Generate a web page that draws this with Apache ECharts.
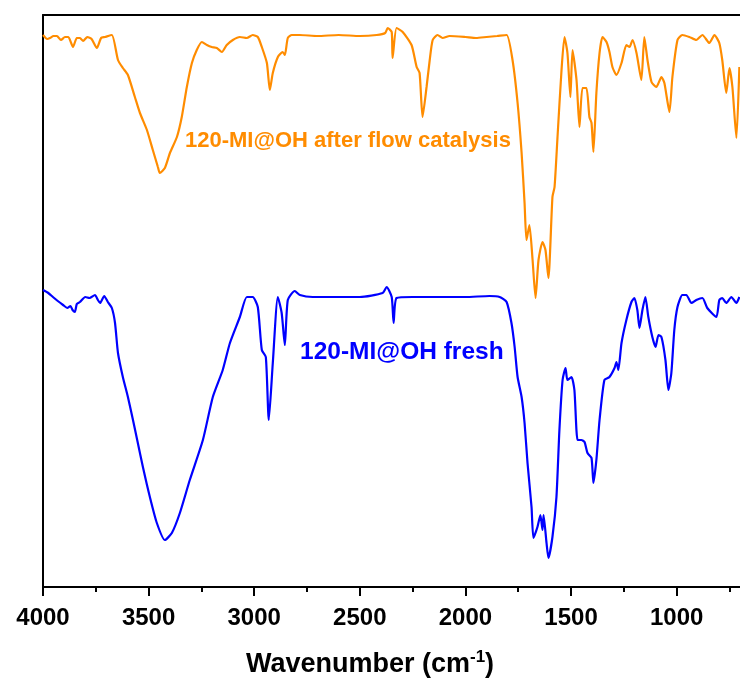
<!DOCTYPE html>
<html>
<head>
<meta charset="utf-8">
<script src="https://cdn.jsdelivr.net/npm/echarts@6/dist/echarts.min.js"></script>
<style>
html,body{margin:0;padding:0;background:#fff;}
#chart{width:740px;height:682px;}
</style>
</head>
<body>
<div id="chart"></div>
<script>
// Wavenumber (cm-1) and relative transmittance (arbitrary units, offset traces)
const afterFlow = [
  [4000,552],[3980,548],[3967,549],[3950,551],[3934,551],[3915,547],[3896,550],[3880,550],[3858,540],[3840,549],
  [3825,549],[3810,546],[3790,550],[3770,548],[3745,539],[3725,549],[3707,550],[3674,552],
  [3645,527],[3622,519],[3598,512],[3565,490],[3541,474],[3508,457],[3480,437],[3456,420],[3447,414],
  [3423,419],[3399,434],[3366,450],[3343,470],[3319,500],[3295,524],[3272,537],[3248,545],[3224,542],
  [3201,540],[3177,539],[3153,535],[3130,542],[3101,547],[3068,550],[3035,549],[3007,552],[2983,550],
  [2964,540],[2940,524],[2926,497],[2912,514],[2888,530],[2865,535],[2855,532],[2841,549],[2822,552],
  [2784,552],[2700,551],[2600,552],[2500,551],[2420,552],[2380,554],[2368,559],[2349,555],[2345,529],
  [2326,559],[2297,555],[2255,542],[2231,520],[2217,514],[2203,470],[2184,500],[2169,527],[2155,547],
  [2132,552],[2108,549],[2075,551],[2000,550],[1950,549],[1900,550],[1850,551],[1805,552],
  [1777,527],[1753,484],[1734,434],[1720,384],[1711,347],[1697,362],[1682,327],[1668,289],[1654,327],
  [1635,345],[1621,337],[1607,309],[1588,390],[1578,400],[1564,450],[1545,517],[1531,550],[1517,534],
  [1503,490],[1493,537],[1474,507],[1460,460],[1446,499],[1427,499],[1413,470],[1403,464],[1394,435],
  [1380,494],[1365,534],[1351,550],[1332,545],[1318,535],[1304,520],[1285,512],[1261,524],[1238,542],
  [1223,540],[1209,547],[1190,534],[1167,507],[1153,550],[1138,527],[1119,505],[1096,500],[1072,510],
  [1058,504],[1034,475],[1020,510],[996,547],[973,552],[940,550],[907,547],[878,552],[845,544],
  [821,552],[798,544],[784,527],[765,494],[750,519],[736,500],[717,449],[703,520]
];
const fresh = [
  [4000,297],[3975,294],[3953,290],[3930,286],[3905,282],[3885,279],[3870,281],[3860,277],[3849,275],[3840,283],
  [3825,285],[3800,290],[3780,289],[3754,292],[3740,287],[3730,284],[3710,291],[3693,285],[3674,279],
  [3659,264],[3645,234],[3622,210],[3598,190],[3574,167],[3551,144],[3527,120],[3494,90],[3461,64],
  [3423,47],[3390,54],[3352,74],[3305,107],[3243,147],[3196,190],[3149,217],[3115,244],[3068,270],
  [3035,290],[3007,290],[2983,280],[2964,237],[2945,230],[2931,167],[2912,224],[2888,290],[2870,274],
  [2855,242],[2841,287],[2808,296],[2784,292],[2723,290],[2600,290],[2500,290],[2392,294],[2373,300],
  [2349,290],[2340,264],[2326,289],[2250,290],[2100,290],[2000,290],[1886,291],[1838,290],[1805,285],
  [1782,264],[1767,240],[1753,210],[1734,190],[1720,164],[1706,124],[1687,80],[1678,49],[1659,60],
  [1645,72],[1635,57],[1630,72],[1616,44],[1607,29],[1588,50],[1569,90],[1555,157],[1540,207],
  [1526,219],[1517,207],[1498,210],[1484,197],[1469,147],[1451,147],[1436,145],[1422,134],[1403,129],
  [1394,104],[1380,127],[1365,167],[1342,207],[1318,210],[1294,219],[1285,225],[1276,217],[1261,244],
  [1238,267],[1214,285],[1200,289],[1186,277],[1176,259],[1162,277],[1148,290],[1134,270],[1115,250],
  [1100,240],[1086,252],[1072,250],[1053,227],[1039,197],[1025,214],[1011,257],[996,280],[973,292],
  [954,292],[930,284],[907,287],[878,289],[855,279],[812,270],[798,287],[784,289],[765,284],[741,290],
  [717,284],[703,290]
];
const majorTicks = [1000,1500,2000,2500,3000,3500,4000];
const minorTicks = [750,1250,1750,2250,2750,3250,3750];
const seriesNames = ['120-MI@OH after flow catalysis','120-MI@OH fresh'];
const xMin = 700, xMax = 4000, yMin = 0, yMax = 572;

const chart = echarts.init(document.getElementById('chart'), null, {renderer:'canvas'});
const FONT = '"Liberation Sans", Arial, sans-serif';
chart.setOption({
  animation:false,
  backgroundColor:'#fff',
  grid:{left:43, right:-1, top:15, bottom:95, containLabel:false},
  xAxis:[
    {type:'value', min:xMin, max:xMax, inverse:true, position:'bottom',
     axisLine:{show:true, onZero:false, lineStyle:{color:'#000', width:2}},
     axisTick:{show:true, customValues:majorTicks, length:9, inside:false, lineStyle:{color:'#000', width:2}},
     axisLabel:{show:true, customValues:majorTicks, margin:19, color:'#000', fontSize:24, fontWeight:'bold', fontFamily:FONT,
       formatter:function(v){return String(v);}},
     splitLine:{show:false}},
    {type:'value', min:xMin, max:xMax, inverse:true, position:'bottom',
     axisLine:{show:false, onZero:false},
     axisTick:{show:true, customValues:minorTicks, length:5, lineStyle:{color:'#000', width:2}},
     axisLabel:{show:false}, splitLine:{show:false}},
    {type:'value', min:xMin, max:xMax, inverse:true, position:'top',
     axisLine:{show:true, onZero:false, lineStyle:{color:'#000', width:2}},
     axisTick:{show:false}, axisLabel:{show:false}, splitLine:{show:false}}
  ],
  yAxis:{type:'value', min:yMin, max:yMax,
    axisLine:{show:true, onZero:false, lineStyle:{color:'#000', width:2}},
    axisTick:{show:false}, axisLabel:{show:false}, splitLine:{show:false}},
  series:[
    {name:seriesNames[0], type:'line', data:afterFlow, showSymbol:false, smooth:0.2,
     lineStyle:{color:'#FF8C00', width:2.2}, itemStyle:{color:'#FF8C00'}, clip:true},
    {name:seriesNames[1], type:'line', data:fresh, showSymbol:false, smooth:0.2,
     lineStyle:{color:'#0000FF', width:2.2}, itemStyle:{color:'#0000FF'}, clip:true}
  ],
  graphic:[
    {type:'text', left:185, top:130, style:{text:seriesNames[0], fill:'#FF8C00', font:'bold 22px "Liberation Sans", Arial, sans-serif'}},
    {type:'text', left:300, top:340, style:{text:seriesNames[1], fill:'#0000FF', font:'bold 24.5px "Liberation Sans", Arial, sans-serif'}},
    {type:'text', left:'center', top:649, style:{
      text:'{a|Wavenumber (cm}{s|-1}{a|)}',
      rich:{
        a:{fontSize:27, fontWeight:'bold', fontFamily:FONT, fill:'#000', lineHeight:32},
        s:{fontSize:17, fontWeight:'bold', fontFamily:FONT, fill:'#000', lineHeight:15, verticalAlign:'top'}
      }}}
  ]
});
</script>
</body>
</html>
